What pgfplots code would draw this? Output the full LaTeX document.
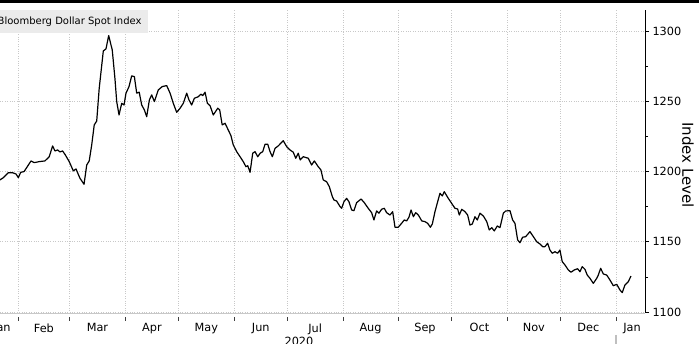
\documentclass[border=0pt]{standalone}
\usepackage{pgfplots}
\pgfplotsset{compat=1.18}
\usepackage{fontspec}
\setmainfont{DejaVu Sans}
\definecolor{gridc}{RGB}{200,200,200}
\definecolor{legbg}{RGB}{235,235,235}
\begin{document}
\begin{tikzpicture}
\begin{axis}[
  scale only axis, width=645pt, height=303pt,
  xmin=20.92, xmax=382.25, ymin=1099.3, ymax=1314.9,
  axis x line*=bottom, axis y line*=right,
  x axis line style={draw=gridc, -},
  y axis line style={black, line width=0.8pt, -},
  xtick={31,60,91,121,152,182,213,244,274,305,335,366},
  xticklabels={},
  xmajorgrids,
  xtick style={yshift=-4pt, draw=black!75, line width=0.7pt},
  extra x ticks={22,45.5,75.5,106,136.5,167,197.5,228.5,259,289.5,320,350.5,375},
  extra x tick labels={Jan,Feb,Mar,Apr,May,Jun,Jul,Aug,Sep,Oct,Nov,Dec,Jan},
  extra x tick style={grid=none, major tick length=0pt, tick style={draw=none},
    tick label style={yshift=-7pt}},
  ytick={1100,1150,1200,1250,1300},
  minor ytick={1125,1175,1225,1275},
  ymajorgrids,
  tick align=outside,
  major tick length=4pt, minor tick length=3pt,
  ytick style={black, line width=0.7pt},
  grid style={gridc, dotted, line width=0.6pt},
  tick label style={font=\fontsize{11.3}{13}\selectfont},
  /pgf/number format/assume math mode=true,
  /pgf/number format/1000 sep={},
]
\addplot[black, line width=1.2pt, line join=round, mark=none] coordinates {
(20.9,1194.0)(22.8,1195.6)(25.6,1199.1)(28.0,1199.1)(29.9,1198.2)(31.2,1195.6)(32.5,1199.4)(34.4,1199.9)(36.2,1203.4)(38.3,1207.5)(40.1,1206.3)(42.9,1207.0)(46.1,1207.5)(48.5,1210.5)(50.4,1218.2)(51.7,1214.6)(53.2,1215.3)(54.5,1213.9)(56.0,1214.6)(57.5,1211.8)(59.7,1207.0)(62.0,1200.4)(63.5,1201.8)(65.7,1195.2)(68.0,1190.9)(69.5,1204.6)(70.9,1207.5)(72.3,1218.9)(73.7,1233.1)(75.1,1235.9)(76.5,1259.2)(78.8,1285.8)(80.3,1287.2)(81.8,1296.7)(83.1,1290.0)(83.8,1286.5)(85.3,1266.3)(86.3,1249.7)(87.6,1240.2)(89.1,1248.5)(90.4,1247.3)(91.5,1255.7)(93.2,1260.4)(94.7,1268.0)(96.2,1267.5)(97.5,1255.7)(98.9,1256.4)(100.3,1247.3)(101.8,1243.8)(103.1,1239.0)(104.6,1250.9)(105.9,1254.5)(107.4,1249.7)(109.6,1258.0)(111.8,1260.4)(114.3,1261.1)(116.2,1255.7)(118.0,1248.5)(119.9,1242.1)(121.8,1245.0)(123.6,1248.5)(125.5,1255.7)(126.8,1250.9)(128.3,1247.3)(129.8,1252.1)(132.0,1253.2)(133.5,1255.0)(134.5,1254.0)(135.8,1256.4)(137.1,1248.5)(138.6,1246.8)(140.4,1240.2)(141.4,1242.1)(142.9,1245.0)(144.0,1243.8)(145.4,1233.1)(147.0,1234.3)(148.8,1229.5)(150.3,1225.5)(151.6,1218.9)(153.5,1214.1)(155.4,1210.5)(157.2,1207.0)(158.7,1203.4)(159.7,1204.1)(161.0,1199.4)(162.5,1213.0)(163.8,1214.1)(165.3,1210.5)(166.7,1213.0)(168.1,1214.1)(169.4,1219.4)(170.9,1219.4)(172.2,1214.1)(173.5,1210.5)(175.0,1216.5)(176.8,1218.2)(179.6,1221.9)(181.5,1217.7)(183.4,1215.3)(185.2,1213.7)(186.6,1209.4)(188.0,1213.0)(189.1,1208.2)(190.8,1210.5)(193.6,1209.4)(195.5,1204.6)(197.0,1207.5)(199.2,1203.4)(200.7,1201.1)(202.0,1194.0)(203.9,1192.7)(205.4,1189.2)(207.1,1182.1)(208.0,1179.7)(209.5,1179.0)(211.4,1175.0)(212.3,1173.8)(213.6,1178.5)(215.1,1180.9)(216.4,1178.5)(217.9,1172.6)(219.2,1172.1)(220.7,1177.8)(223.2,1180.4)(225.0,1177.8)(227.2,1173.8)(229.1,1170.7)(230.4,1165.5)(231.9,1171.9)(233.2,1170.3)(234.7,1173.1)(236.2,1173.8)(237.5,1170.7)(239.4,1169.0)(240.9,1171.4)(242.2,1160.3)(244.0,1160.3)(245.9,1163.1)(247.4,1165.5)(248.7,1164.8)(250.0,1167.4)(251.2,1172.6)(252.5,1167.8)(253.8,1170.7)(255.3,1169.0)(257.2,1164.8)(259.0,1164.3)(260.5,1163.1)(262.0,1160.3)(263.1,1162.6)(264.6,1171.4)(266.1,1178.5)(267.4,1184.5)(268.7,1182.6)(269.8,1185.6)(271.7,1181.6)(273.9,1177.4)(275.8,1173.8)(277.3,1173.3)(278.2,1169.0)(279.6,1173.1)(281.4,1171.4)(282.9,1169.0)(284.2,1161.9)(285.5,1162.6)(287.0,1167.8)(288.3,1165.5)(289.8,1170.3)(291.7,1168.3)(293.6,1164.3)(295.0,1158.4)(296.4,1160.0)(297.8,1157.7)(299.5,1161.2)(301.0,1160.0)(302.9,1170.3)(304.2,1171.9)(306.6,1172.1)(308.1,1165.5)(309.4,1163.1)(310.9,1151.3)(312.2,1149.3)(313.7,1153.2)(315.4,1153.6)(317.8,1157.2)(319.7,1153.6)(321.6,1150.0)(323.4,1148.4)(324.9,1146.5)(326.2,1146.5)(327.7,1148.9)(329.0,1144.1)(330.3,1141.8)(331.8,1142.9)(333.3,1141.8)(334.6,1144.1)(335.9,1135.8)(337.4,1133.5)(339.3,1129.9)(340.8,1128.3)(342.6,1129.9)(344.5,1130.8)(345.8,1128.7)(347.1,1132.3)(348.6,1130.4)(349.9,1126.3)(351.4,1124.0)(353.3,1120.4)(355.2,1124.0)(356.1,1126.3)(357.4,1131.1)(358.9,1127.1)(360.8,1126.3)(362.6,1122.8)(364.5,1118.7)(366.4,1119.7)(368.2,1115.7)(369.5,1113.8)(371.0,1119.2)(372.9,1121.6)(374.4,1125.6)
};
\end{axis}
\node[fill=legbg, anchor=north east, inner xsep=6.3pt, inner ysep=0pt, minimum height=23pt,
  font=\fontsize{10}{12}\selectfont] at (148pt,303pt) {Bloomberg Dollar Spot Index};
\node[xshift=688pt, yshift=148pt, rotate=-90, inner sep=0pt, font=\fontsize{15}{18}\selectfont] at (0,0) {Index Level};
\node[anchor=north, inner sep=0pt, font=\fontsize{11.3}{13}\selectfont] at (299pt,-24pt) {2020};
\draw[gray!50, line width=1.3pt] (616pt,-22pt) -- (616pt,-34pt);
\fill[black] (-5pt,309.5pt) rectangle (705pt,316pt);
\pgfresetboundingbox
\useasboundingbox (0,-31pt) rectangle (699pt,313pt);
\end{tikzpicture}
\end{document}
